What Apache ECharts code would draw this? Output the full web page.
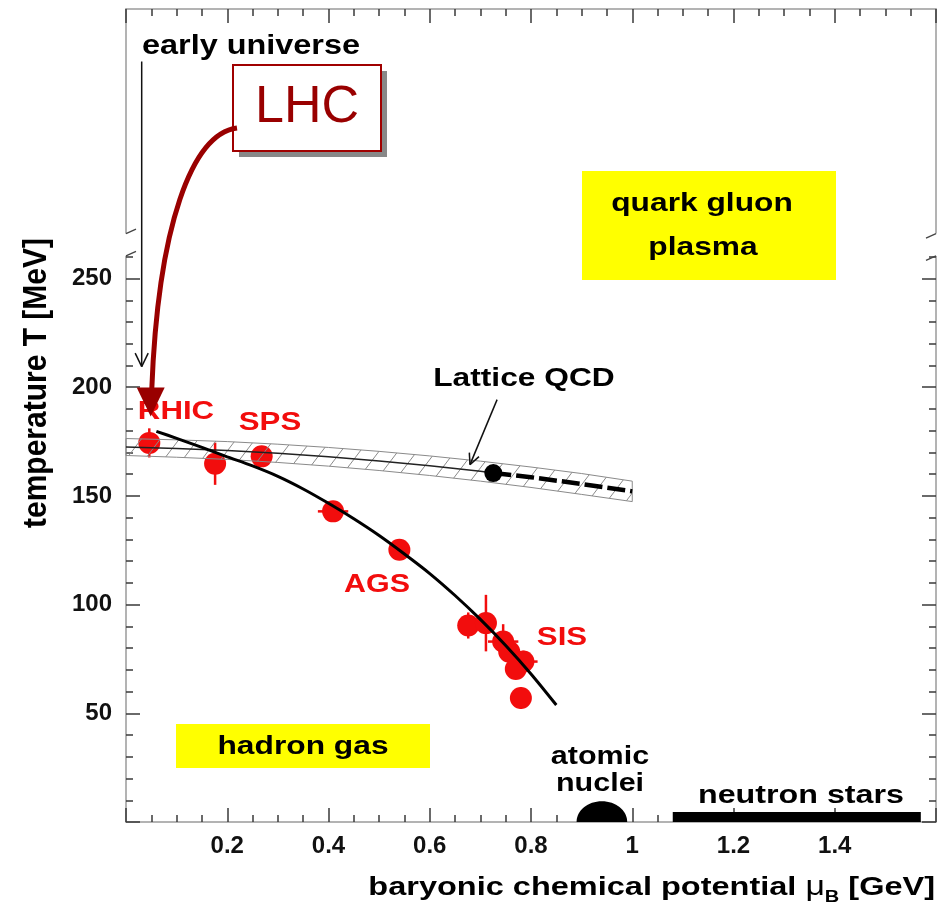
<!DOCTYPE html>
<html>
<head>
<meta charset="utf-8">
<title>QCD phase diagram</title>
<script src="https://cdn.jsdelivr.net/npm/echarts@6.0.0/dist/echarts.min.js"></script>
<style>
  html, body { margin: 0; padding: 0; background: #fff; }
  #chart { width: 938px; height: 909px; }
</style>
</head>
<body>
<div id="chart"></div>
<script>
// ---------- data: baryonic chemical potential mu_B (GeV) vs temperature T (MeV) ----------

// chemical freeze-out points (RHIC, SPS, AGS, SIS)
const freezeMu    = [0.046, 0.176, 0.268, 0.409, 0.540, 0.676, 0.711, 0.745, 0.757, 0.785, 0.770, 0.780];
const freezeT     = [174.4, 164.8, 168.2, 142.9, 125.2, 90.4, 91.5, 83.0, 78.3, 73.8, 70.4, 57.0];
const freezeMuErr = [0, 0, 0, 0.03, 0, 0, 0, 0.03, 0, 0.028, 0, 0];
const freezeTErr  = [6.7, 9.7, 3, 2, 2, 6, 13, 8, 4, 5, 3, 5];

// freeze-out curve
const curveMu = [0.06, 0.10, 0.15, 0.20, 0.25, 0.30, 0.35, 0.40, 0.45, 0.50, 0.55, 0.60, 0.65, 0.70, 0.75, 0.80, 0.85];
const curveT  = [179.7, 176.5, 172.3, 168.0, 163.8, 159.0, 153.2, 146.6, 139.5, 131.8, 123.3, 114.3, 104.2, 93.2, 81.2, 68.1, 53.8];

// lattice QCD transition band
const latticeMu     = [0, 0.1, 0.2, 0.3, 0.4, 0.5, 0.6, 0.7, 0.8, 0.9, 1.0];
const latticeCenter = [172.5, 171.8, 170.9, 169.6, 168.0, 166.1, 163.9, 161.4, 158.6, 155.5, 152.1];
const latticeUpper  = [176.4, 175.8, 175.0, 173.8, 172.3, 170.5, 168.4, 166.0, 163.3, 160.3, 156.8];
const latticeLower  = [168.6, 167.8, 166.8, 165.4, 163.7, 161.7, 159.4, 156.8, 153.9, 150.7, 147.4];
const latticeEndpoint = [0.7255, 160.5];

// cold dense matter
const nucleiMu = 0.94, nucleiHalfWidth = 0.05, nucleiT = 9.5;
const neutronStarMu = [1.08, 1.57], neutronStarT = 4.6;

// arrow anchors (mu, T)
const earlyUniverseFrom = [0.031, 349.9], earlyUniverseTo = [0.031, 209.5];
const lhcTarget = [0.0488, 186.5];
const latticeArrowFrom = [0.733, 194.3], latticeArrowTo = [0.6795, 164.4];

// axis ticks
const xTickLabels = [0.2, 0.4, 0.6, 0.8, 1, 1.2, 1.4];
const yTickLabels = [50, 100, 150, 200, 250];
const yMajorTicks = [0, 50, 100, 150, 200, 250];
const yMinorTicks = [10, 20, 30, 40, 60, 70, 80, 90, 110, 120, 130, 140, 160, 170, 180, 190, 210, 220, 230, 240, 260];
const yBreak = [260.4, 270.7];

// ---------- styling ----------
const FONT = '"Liberation Sans", Arial, Helvetica, sans-serif';
const RED = '#f20d0d';
const DARK_RED = '#990000';
const axisLineStyle = { color: '#9a9a9a', width: 1.5 };
const tickStyle = { color: '#3a3a3a', width: 1.5 };
const tickLabel = { color: '#111', fontFamily: FONT, fontWeight: 'bold', fontSize: 24 };

// diagonal hatching for the lattice band
function makeHatch() {
  const w = 19, h = 25;
  const c = document.createElement('canvas');
  c.width = w; c.height = h;
  const g = c.getContext('2d');
  g.strokeStyle = '#8a8a8a';
  g.lineWidth = 1;
  g.beginPath();
  [-w, 0, w].forEach(function (o) { g.moveTo(o, h); g.lineTo(o + w, 0); });
  g.stroke();
  return c;
}
const hatchPattern = { image: makeHatch(), repeat: 'repeat' };

function xAxisDef(position, showLabels) {
  return {
    type: 'value', position: position, min: 0, max: 1.6, interval: 0.2,
    axisLine: { show: true, onZero: false, lineStyle: axisLineStyle },
    axisTick: { show: true, inside: true, length: 14, lineStyle: tickStyle },
    minorTick: { show: true, splitNumber: 4, length: 7, lineStyle: tickStyle },
    splitLine: { show: false }, minorSplitLine: { show: false },
    axisLabel: showLabels ? Object.assign({ customValues: xTickLabels, margin: 12 }, tickLabel) : { show: false }
  };
}
function yAxisDef(position, ticks, len, showLine, showLabels) {
  return {
    type: 'value', position: position, min: 0, max: 374,
    axisLine: { show: showLine, onZero: false, lineStyle: axisLineStyle },
    axisTick: { show: true, inside: true, length: len, customValues: ticks, lineStyle: tickStyle },
    splitLine: { show: false },
    axisLabel: showLabels ? Object.assign({ customValues: yTickLabels, margin: 14 }, tickLabel) : { show: false }
  };
}

const chart = echarts.init(document.getElementById('chart'));

chart.setOption({
  animation: false,
  backgroundColor: '#fff',
  grid: { left: 126, right: 2, top: 9, bottom: 87, containLabel: false },
  xAxis: [xAxisDef('bottom', true), xAxisDef('top', false)],
  yAxis: [
    yAxisDef('left', yMajorTicks, 14, true, true),
    yAxisDef('left', yMinorTicks, 7, false, false),
    yAxisDef('right', yMajorTicks, 14, true, false),
    yAxisDef('right', yMinorTicks, 7, false, false)
  ],
  series: [
    { // freeze-out error bars
      type: 'custom', z: 3, silent: true,
      data: freezeMu.map(function (m, i) { return [m, freezeT[i], freezeMuErr[i], freezeTErr[i]]; }),
      renderItem: function (params, api) {
        const m = api.value(0), t = api.value(1), dm = api.value(2), dt = api.value(3);
        const kids = [];
        const st = { stroke: RED, lineWidth: 2.5 };
        if (dt > 0) {
          const a = api.coord([m, t - dt]), b = api.coord([m, t + dt]);
          kids.push({ type: 'line', shape: { x1: a[0], y1: a[1], x2: b[0], y2: b[1] }, style: st });
        }
        if (dm > 0) {
          const a = api.coord([m - dm, t]), b = api.coord([m + dm, t]);
          kids.push({ type: 'line', shape: { x1: a[0], y1: a[1], x2: b[0], y2: b[1] }, style: st });
        }
        return { type: 'group', children: kids };
      }
    },
    { // freeze-out points
      type: 'scatter', z: 4, silent: true,
      data: freezeMu.map(function (m, i) { return [m, freezeT[i]]; }),
      symbol: 'circle', symbolSize: 22,
      itemStyle: { color: RED, opacity: 1 }
    },
    { // lattice band
      type: 'custom', z: 5, silent: true,
      data: [[0.5, 165]],
      renderItem: function (params, api) {
        const up = latticeMu.map(function (m, i) { return api.coord([m, latticeUpper[i]]); });
        const lo = latticeMu.map(function (m, i) { return api.coord([m, latticeLower[i]]); }).reverse();
        return {
          type: 'polygon',
          shape: { points: up.concat(lo) },
          style: { fill: hatchPattern, stroke: '#8a8a8a', lineWidth: 1 }
        };
      }
    },
    { // lattice centre line up to the critical point
      type: 'line', z: 6, silent: true, symbol: 'none',
      data: latticeMu.filter(function (m) { return m < latticeEndpoint[0]; })
        .map(function (m, i) { return [m, latticeCenter[i]]; })
        .concat([latticeEndpoint]),
      lineStyle: { color: '#222', width: 1.5 }
    },
    { // lattice centre line beyond the critical point
      type: 'line', z: 6, silent: true, symbol: 'none',
      data: [latticeEndpoint].concat(latticeMu
        .map(function (m, i) { return [m, latticeCenter[i]]; })
        .filter(function (p) { return p[0] > latticeEndpoint[0]; })),
      lineStyle: { color: '#000', width: 4.5, type: [18, 5] }
    },
    { // critical end point
      type: 'scatter', z: 7, silent: true,
      data: [latticeEndpoint], symbol: 'circle', symbolSize: 18,
      itemStyle: { color: '#000', opacity: 1 }
    },
    { // freeze-out curve
      type: 'line', z: 8, silent: true, symbol: 'none', smooth: 0.3,
      data: curveMu.map(function (m, i) { return [m, curveT[i]]; }),
      lineStyle: { color: '#000', width: 3 }
    },
    { // atomic nuclei
      type: 'custom', z: 4, silent: true, clip: true,
      data: [[nucleiMu, 0]],
      renderItem: function (params, api) {
        const c = api.coord([nucleiMu, 0]);
        const s = api.size([nucleiHalfWidth, nucleiT]);
        return { type: 'ellipse', shape: { cx: c[0], cy: c[1], rx: s[0], ry: s[1] }, style: { fill: '#000' } };
      }
    },
    { // neutron stars
      type: 'custom', z: 4, silent: true,
      data: [[neutronStarMu[0], 0]],
      renderItem: function (params, api) {
        const a = api.coord([neutronStarMu[0], neutronStarT]);
        const b = api.coord([neutronStarMu[1], 0]);
        return { type: 'rect', shape: { x: a[0], y: a[1], width: b[0] - a[0], height: b[1] - a[1] }, style: { fill: '#000' } };
      }
    }
  ]
});

// ---------- annotations ----------
function px(p) { return chart.convertToPixel({ seriesIndex: 1 }, p); }

function label(text, cx, baseline, fs, color, sx) {
  return {
    type: 'text', x: cx, y: baseline - 0.35 * fs, scaleX: sx == null ? 1.22 : sx, z: 60,
    style: { text: text, fill: color, fontFamily: FONT, fontWeight: 'bold', fontSize: fs, align: 'center', verticalAlign: 'middle' }
  };
}
function openHead(tail, tip, len, color) {
  const dx = tip[0] - tail[0], dy = tip[1] - tail[1];
  const d = Math.hypot(dx, dy), ux = dx / d, uy = dy / d;
  const ang = 0.45, out = [];
  [-ang, ang].forEach(function (a) {
    const rx = ux * Math.cos(a) - uy * Math.sin(a);
    const ry = ux * Math.sin(a) + uy * Math.cos(a);
    out.push({ type: 'line', z: 70, shape: { x1: tip[0], y1: tip[1], x2: tip[0] - rx * len, y2: tip[1] - ry * len },
      style: { stroke: color, lineWidth: 1.5 } });
  });
  return out;
}

const g = [];
const lb = px([0, yBreak[0]]), lt = px([0, yBreak[1]]);
const rb = px([1.6, yBreak[0]]), rt = px([1.6, yBreak[1]]);
// axis breaks
g.push({ type: 'rect', z: 40, shape: { x: lb[0] - 3, y: lt[1], width: 6, height: lb[1] - lt[1] }, style: { fill: '#fff' } });
g.push({ type: 'rect', z: 40, shape: { x: rb[0] - 3, y: rt[1], width: 6, height: rb[1] - rt[1] }, style: { fill: '#fff' } });
[lb, lt].forEach(function (p) {
  g.push({ type: 'line', z: 41, shape: { x1: p[0], y1: p[1], x2: p[0] + 10, y2: p[1] - 4.5 }, style: { stroke: '#444', lineWidth: 1.3 } });
});
[rb, rt].forEach(function (p) {
  g.push({ type: 'line', z: 41, shape: { x1: p[0] - 10, y1: p[1] + 4.5, x2: p[0], y2: p[1] }, style: { stroke: '#444', lineWidth: 1.3 } });
});

// regions
g.push({ type: 'rect', z: 20, shape: { x: 582, y: 171, width: 254, height: 109 }, style: { fill: '#ffff00' } });
g.push(label('quark gluon', 702, 213, 26, '#000'));
g.push(label('plasma', 703, 257, 26, '#000'));
g.push({ type: 'rect', z: 20, shape: { x: 176, y: 724, width: 254, height: 44 }, style: { fill: '#ffff00' } });
g.push(label('hadron gas', 303, 756, 25, '#000', 1.27));
g.push(label('atomic', 600, 766, 25, '#000'));
g.push(label('nuclei', 600, 793, 25, '#000'));
g.push(label('neutron stars', 801, 805, 26, '#000', 1.24));

// experiment labels
g.push(label('RHIC', 176, 421, 26, RED, 1.2));
g.push(label('SPS', 270, 432, 26, RED, 1.2));
g.push(label('AGS', 377, 594, 26, RED, 1.17));
g.push(label('SIS', 562, 647, 26, RED, 1.2));

// lattice QCD
g.push(label('Lattice QCD', 524, 388, 26, '#000', 1.22));
const la = px(latticeArrowFrom), lz = px(latticeArrowTo);
g.push({ type: 'line', z: 70, shape: { x1: la[0], y1: la[1], x2: lz[0], y2: lz[1] }, style: { stroke: '#111', lineWidth: 1.5 } });
openHead(la, lz, 12, '#111').forEach(function (e) { g.push(e); });

// early universe
g.push(label('early universe', 251, 56, 27, '#000', 1.2));
const ea = px(earlyUniverseFrom), ez = px(earlyUniverseTo);
g.push({ type: 'line', z: 70, shape: { x1: ea[0], y1: ea[1], x2: ez[0], y2: ez[1] }, style: { stroke: '#111', lineWidth: 1.5 } });
openHead(ea, ez, 15, '#111').forEach(function (e) { g.push(e); });

// LHC call-out
g.push({ type: 'rect', z: 80, shape: { x: 239, y: 71, width: 148, height: 86 }, style: { fill: '#888' } });
g.push({ type: 'rect', z: 81, shape: { x: 233, y: 65, width: 148, height: 86 }, style: { fill: '#fff', stroke: '#a00000', lineWidth: 2 } });
g.push({ type: 'text', z: 82, x: 307, y: 108, style: { text: 'LHC', fill: DARK_RED, fontFamily: FONT, fontSize: 52, align: 'center', verticalAlign: 'middle' } });
const lz2 = px(lhcTarget);
g.push({ type: 'bezierCurve', z: 85,
  shape: { x1: 237, y1: 128, cpx1: 192, cpy1: 134, cpx2: 158, cpy2: 225, x2: lz2[0] + 1, y2: lz2[1] - 26 },
  style: { stroke: DARK_RED, lineWidth: 5, fill: null } });
g.push({ type: 'polygon', z: 86,
  shape: { points: [[lz2[0] - 14, lz2[1] - 29], [lz2[0] + 14, lz2[1] - 29], [lz2[0], lz2[1]]] },
  style: { fill: DARK_RED } });

// axis titles
g.push({ type: 'text', z: 60, x: 37, y: 383, rotation: Math.PI / 2, scaleY: 1.1,
  style: { text: 'temperature T [MeV]', fill: '#000', fontFamily: FONT, fontWeight: 'bold', fontSize: 30, align: 'center', verticalAlign: 'middle' } });
g.push({ type: 'text', z: 60, x: 935, y: 888, scaleX: 1.25,
  style: {
    text: '{b|baryonic chemical potential }{mu|μ}{sub|B}{b| [GeV]}',
    align: 'right', verticalAlign: 'middle',
    rich: {
      b: { fontFamily: FONT, fontWeight: 'bold', fontSize: 26, lineHeight: 36, fill: '#000' },
      mu: { fontFamily: FONT, fontSize: 27, lineHeight: 36, fill: '#000' },
      sub: { fontFamily: FONT, fontWeight: 'bold', fontSize: 16, lineHeight: 16, verticalAlign: 'bottom', fill: '#000' }
    }
  } });

chart.setOption({ graphic: { elements: g } });
</script>
</body>
</html>
